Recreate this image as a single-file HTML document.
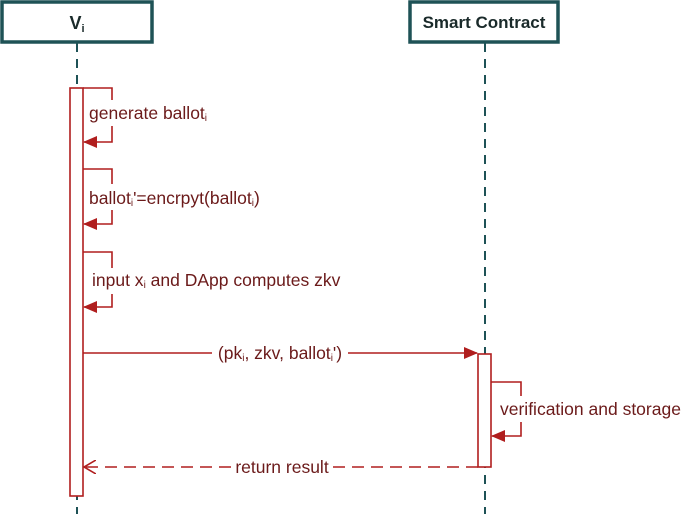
<!DOCTYPE html>
<html><head><meta charset="utf-8"><style>body{margin:0;background:#fff}svg{display:block}</style></head><body>
<svg width="685" height="514" viewBox="0 0 685 514" xmlns="http://www.w3.org/2000/svg" font-family="Liberation Sans, sans-serif">
<defs>
<marker id="a" markerWidth="14" markerHeight="12" refX="13" refY="6" orient="auto" markerUnits="userSpaceOnUse"><path d="M0,0 L14,6 L0,12 z" fill="#b01e1e"/></marker>
<marker id="o" markerWidth="14" markerHeight="14" refX="12" refY="7" orient="auto" markerUnits="userSpaceOnUse"><path d="M0,0 L12,7 L0,14" fill="none" stroke="#b01e1e" stroke-width="1.6"/></marker>
</defs>
<g stroke="#1e5256" stroke-width="2" stroke-dasharray="9,7" fill="none">
<line x1="77" y1="43" x2="77" y2="514"/>
<line x1="485" y1="43" x2="485" y2="514"/>
</g>
<rect x="2" y="2" width="150" height="40" fill="#fff" stroke="#1e5256" stroke-width="3.5"/>
<rect x="410" y="2" width="148" height="40" fill="#fff" stroke="#1e5256" stroke-width="3.5"/>
<text x="77" y="29" text-anchor="middle" font-size="18" font-weight="bold" fill="#1a2a2a">V<tspan font-size="11" dy="3">i</tspan></text>
<text x="484" y="28" text-anchor="middle" font-size="17" font-weight="bold" fill="#1a2a2a">Smart Contract</text>
<rect x="70" y="88" width="13" height="408" fill="#fff" stroke="#b01e1e" stroke-width="1.6"/>
<rect x="478" y="354" width="13" height="113" fill="#fff" stroke="#b01e1e" stroke-width="1.6"/>
<g stroke="#b01e1e" stroke-width="1.6" fill="none">
<polyline points="83,88 112,88 112,142 84,142" marker-end="url(#a)"/>
<polyline points="83,169 112,169 112,224 84,224" marker-end="url(#a)"/>
<polyline points="83,252 112,252 112,307 84,307" marker-end="url(#a)"/>
<line x1="83" y1="353" x2="477" y2="353" marker-end="url(#a)"/>
<polyline points="491,382 521,382 521,436 492,436" marker-end="url(#a)"/>
<line x1="478" y1="467" x2="84" y2="467" stroke-dasharray="12,7" marker-end="url(#o)"/>
</g>
<g font-size="17.5" fill="#6b1a1a">
<rect x="86" y="100" width="130" height="26" fill="#fff"/>
<text x="89" y="119">generate ballot<tspan font-size="10" dy="2">i</tspan></text>
<rect x="86" y="184" width="190" height="26" fill="#fff"/>
<text x="89" y="204">ballot<tspan font-size="10" dy="2">i</tspan><tspan dy="-2">'=encrpyt(ballot</tspan><tspan font-size="10" dy="2">i</tspan><tspan dy="-2">)</tspan></text>
<rect x="90" y="268" width="260" height="26" fill="#fff"/>
<text x="92" y="286">input x<tspan font-size="10" dy="2">i</tspan><tspan dy="-2"> and DApp computes zkv</tspan></text>
<rect x="212" y="342" width="136" height="24" fill="#fff"/>
<text x="280" y="359" text-anchor="middle">(pk<tspan font-size="10" dy="2">i</tspan><tspan dy="-2">, zkv, ballot</tspan><tspan font-size="10" dy="2">i</tspan><tspan dy="-2">')</tspan></text>
<rect x="497" y="396" width="188" height="26" fill="#fff"/>
<text x="500" y="415">verification and storage</text>
<rect x="232" y="456" width="100" height="22" fill="#fff"/>
<text x="282" y="473" text-anchor="middle">return result</text>
</g>
</svg>
</body></html>
